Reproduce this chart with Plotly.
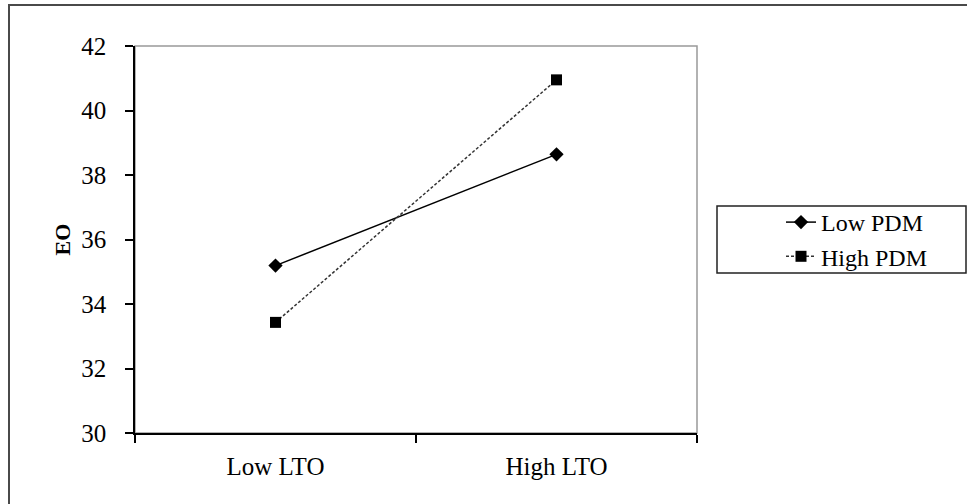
import plotly.graph_objects as go

categories = ["Low LTO", "High LTO"]
low_pdm = [35.19, 38.64]
high_pdm = [33.43, 40.95]
y_ticks = [30, 32, 34, 36, 38, 40, 42]

W, H = 967, 504
L, R, T, B = 135, 697, 46, 433
pw, ph = R - L, B - T

def px(x):
    return (x - L) / pw

def py(y):
    return (B - y) / ph

FONT = "Liberation Serif, Times New Roman, serif"
FS = 25

fig = go.Figure()
fig.add_trace(go.Scatter(
    x=categories, y=low_pdm, name="Low PDM", mode="lines+markers",
    line=dict(color="black", width=1.5),
    marker=dict(symbol="diamond", size=11, color="black"),
))
fig.add_trace(go.Scatter(
    x=categories, y=high_pdm, name="High PDM", mode="lines+markers",
    line=dict(color="#333333", width=1.5, dash="3px,2px"),
    marker=dict(symbol="square", size=11, color="black"),
))

shapes = [
    dict(type="rect", xref="paper", yref="paper", x0=px(9), x1=px(990), y0=py(530), y1=py(5),
         line=dict(color="#4a4a4a", width=2), layer="below"),
    dict(type="rect", xref="paper", yref="paper", x0=0, x1=1, y0=0, y1=1,
         line=dict(color="#999999", width=1.5), layer="below"),
    dict(type="rect", xref="paper", yref="paper", x0=px(717), x1=px(966), y0=py(273), y1=py(206),
         line=dict(color="#222222", width=1.5), fillcolor="white", layer="below"),
]

fig.update_layout(
    width=W, height=H,
    margin=dict(l=L, r=W - R, t=T, b=H - B, pad=0),
    paper_bgcolor="white", plot_bgcolor="white",
    font=dict(family=FONT, size=FS, color="black"),
    showlegend=True,
    legend=dict(x=px(781), y=py(200), xanchor="left", yanchor="top",
                bgcolor="rgba(0,0,0,0)", borderwidth=0,
                font=dict(family=FONT, size=FS - 1, color="black"),
                tracegroupgap=0),
    shapes=shapes,
    xaxis=dict(
        type="category", range=[-0.5, 1.5], showgrid=False, zeroline=False,
        showline=True, linecolor="black", linewidth=1.5,
        ticks="outside", ticklen=8, tickwidth=1.5, tickcolor="black",
        tickson="boundaries", ticklabelstandoff=10,
        tickfont=dict(family=FONT, size=FS, color="black"),
    ),
    yaxis=dict(
        range=[30, 42], tickvals=y_ticks, showgrid=False, zeroline=False,
        showline=True, linecolor="black", linewidth=1.5,
        ticks="outside", ticklen=8, tickwidth=1.5, tickcolor="black",
        ticklabelstandoff=14,
        tickfont=dict(family=FONT, size=FS, color="black"),
        title=dict(text="<b>EO</b>", font=dict(family=FONT, size=22, color="black"), standoff=5),
    ),
)

fig.write_html("out.html", config={"displayModeBar": False},
               post_script="document.body.style.margin='0';document.body.style.overflow='hidden';")
